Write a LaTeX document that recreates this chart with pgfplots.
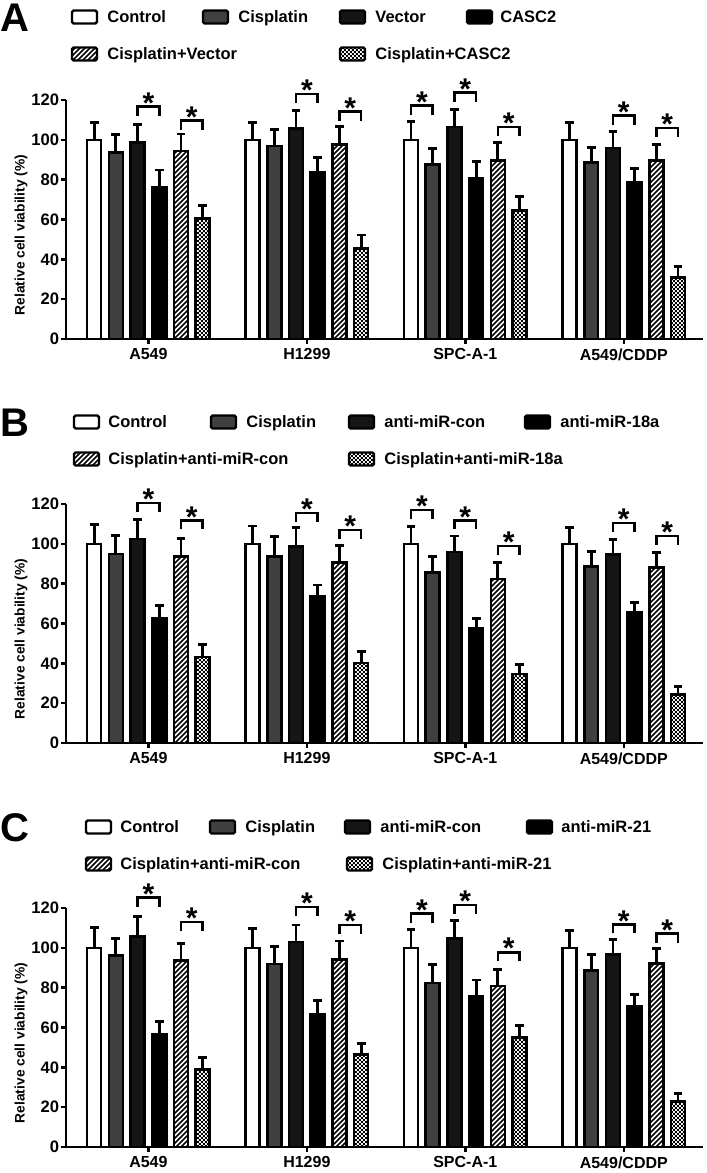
\documentclass[border=0pt]{standalone}
\usepackage{pgfplots}
\pgfplotsset{compat=1.18}
\usepackage{pgfplotstable}
\usepackage{fontspec}
\setmainfont{Liberation Sans}
\usetikzlibrary{patterns}

\definecolor{cisgray}{HTML}{404040}
\definecolor{vecgray}{HTML}{151515}

\pgfdeclarepatternformonly{densehatch}{\pgfqpoint{-1pt}{-1pt}}{\pgfqpoint{3.5pt}{3.5pt}}{\pgfqpoint{2.5pt}{2.5pt}}{%
  \pgfsetlinewidth{0.75pt}\pgfpathmoveto{\pgfqpoint{0pt}{0pt}}\pgfpathlineto{\pgfqpoint{2.6pt}{2.6pt}}\pgfusepath{stroke}}
\pgfdeclarepatternformonly{finecheck}{\pgfqpoint{0pt}{0pt}}{\pgfqpoint{2.2pt}{2.2pt}}{\pgfqpoint{2.2pt}{2.2pt}}{%
  \pgfpathrectangle{\pgfqpoint{0pt}{0pt}}{\pgfqpoint{1.1pt}{1.1pt}}%
  \pgfpathrectangle{\pgfqpoint{1.1pt}{1.1pt}}{\pgfqpoint{1.1pt}{1.1pt}}\pgfusepath{fill}}

\tikzset{
  sC/.style={fill=white},
  sS/.style={fill=cisgray},
  sV/.style={fill=vecgray},
  sK/.style={fill=black},
  sSV/.style={pattern=densehatch, pattern color=black},
  sSK/.style={pattern=finecheck, pattern color=black},
}

\pgfplotsset{
  panel/.style={
    scale only axis, width=318.5pt, height=119.5pt,
    xmin=-0.52, xmax=3.5, ymin=0, ymax=120,
    axis x line=bottom, axis y line=left,
    axis line style={-, line width=1.2pt, black},
    xtick={0,1,2,3}, xticklabels={A549,H1299,SPC-A-1,A549/CDDP},
    ytick={0,20,...,120},
    tick align=outside, major tick length=2.5pt,
    tick style={line width=1.2pt, black},
    /pgf/number format/assume math mode=true,
    xticklabel style={font=\bfseries\fontsize{8}{9}\selectfont, inner sep=2.2pt},
    yticklabel style={font=\bfseries\fontsize{8.3}{9}\selectfont, inner sep=0.8pt},
    ylabel={Relative cell viability (\%)},
    ylabel style={font=\bfseries\fontsize{6.9}{8}\selectfont, at={(axis description cs:-0.0706,0.435)}, anchor=center},
    clip=false,
    anchor=south west,
  },
  bars/.style={ybar, bar shift=0pt, bar width=0.088, draw=black, line width=1.3pt,
    error bars/y dir=plus, error bars/y explicit,
    error bars/draw error bar/.code 2 args={%
      \draw[line width=1.4pt, draw=black, solid, fill=none, pattern=none] ##1 -- ##2;
      \draw[line width=1.4pt, draw=black, solid, fill=none, pattern=none] ##2 ++(-2.2pt,0) -- ++(4.4pt,0);
    },
  },
}

% group, first bar index, bracket top
\newcommand{\sig}[3]{%
  \draw[line width=1.3pt, black] (axis cs:{#1+(#2-2.5)*0.137},{#3-4.6}) -- (axis cs:{#1+(#2-2.5)*0.137},#3)
     -- (axis cs:{#1+(#2-1.5)*0.137},#3) -- (axis cs:{#1+(#2-1.5)*0.137},{#3-4.6});
  \node[anchor=north, inner sep=0pt, font=\bfseries\fontsize{15}{15}\selectfont] at (axis cs:{#1+(#2-2)*0.137},{#3+7.2}) {*};
}

\newcommand{\legfont}{\bfseries\fontsize{8.25}{9}\selectfont}
% box left px, y px, text left px, style, text
\newcommand{\legent}[5]{%
  \draw[#4, draw=black, line width=1.2pt, rounded corners=0.8pt] ({#1*0.5pt},{(1173-#2)*0.5pt-3.25pt}) rectangle ++(12.5pt,6.5pt);
  \node[anchor=base west, inner sep=0pt, font=\legfont] at ({#3*0.5pt},{(1173-#2)*0.5pt-3pt}) {#5};
}
\newcommand{\plabel}[2]{%
  \node[font=\bfseries\fontsize{20}{20}\selectfont, inner sep=0pt] at ({15*0.5pt},{(1173-#1)*0.5pt}) {#2};
}

\pgfplotstableread{
x c ce s se v ve k ke sv sve sk ske
0 100 8.7 93.7 9.1 98.7 9.1 76.2 8.6 94.4 8.5 60.5 6.7
1 100 8.8 96.8 8.4 105.8 9.0 83.8 7.5 97.7 8.8 45.5 6.7
2 100 9.3 87.7 8.0 106.5 8.7 80.7 8.3 89.5 9.0 64.5 7.0
3 100 8.5 88.7 7.6 95.8 8.4 78.5 7.0 89.5 8.0 31.0 5.3
}\tabA
\pgfplotstableread{
x c ce s se v ve k ke sv sve sk ske
0 100 9.6 94.8 9.4 102.5 9.8 62.7 6.4 93.6 9.1 43.2 6.4
1 100 9.0 93.6 10.1 98.8 9.2 73.5 5.8 90.7 8.5 40.1 5.9
2 100 8.8 85.7 8.1 95.8 8.1 57.7 4.7 82.3 8.4 34.6 4.7
3 100 8.4 88.5 7.8 94.6 7.6 65.4 5.3 88.2 7.6 24.5 3.8
}\tabB
\pgfplotstableread{
x c ce s se v ve k ke sv sve sk ske
0 100 10.1 96.1 8.6 105.6 10.1 56.4 6.8 93.6 8.6 38.9 6.2
1 100 9.6 91.9 8.6 102.9 8.6 66.7 6.8 94.1 9.3 46.3 5.6
2 100 9.3 82.3 9.3 104.7 9.2 75.8 8.0 80.9 8.1 55.1 6.0
3 100 8.8 88.5 8.1 96.6 7.5 70.8 5.6 92.1 7.6 22.8 4.1
}\tabC

\newcommand{\allbars}[1]{%
  \addplot[bars, sC]  table[x expr=\thisrow{x}-0.3425, y=c,  y error=ce]  {#1};
  \addplot[bars, sS]  table[x expr=\thisrow{x}-0.2055, y=s,  y error=se]  {#1};
  \addplot[bars, sV]  table[x expr=\thisrow{x}-0.0685, y=v,  y error=ve]  {#1};
  \addplot[bars, sK]  table[x expr=\thisrow{x}+0.0685, y=k,  y error=ke]  {#1};
  \addplot[bars, sSV] table[x expr=\thisrow{x}+0.2055, y=sv, y error=sve] {#1};
  \addplot[bars, sSK] table[x expr=\thisrow{x}+0.3425, y=sk, y error=ske] {#1};
}

\begin{document}
\begin{tikzpicture}
\useasboundingbox (0,0) rectangle (353.5pt,586.5pt);

% ---------- Panel A ----------
\plabel{18}{A}
\legent{72}{17}{107}{sC}{Control}
\legent{203}{17}{238}{sS}{Cisplatin}
\legent{340}{17}{375}{sV}{Vector}
\legent{467}{17}{500}{sK}{CASC2}
\legent{72}{54}{107}{sSV}{Cisplatin+Vector}
\legent{340}{54}{375}{sSK}{Cisplatin+CASC2}
\begin{axis}[panel, at={(33pt,417pt)}]
\allbars{\tabA}
\sig{0}{2}{116.8}\sig{0}{4}{109.7}
\sig{1}{2}{123}\sig{1}{4}{114.3}
\sig{2}{0}{117.3}\sig{2}{2}{123.8}\sig{2}{4}{106.5}
\sig{3}{2}{112.2}\sig{3}{4}{106}
\end{axis}

% ---------- Panel B ----------
\plabel{423}{B}
\legent{74}{422}{108}{sC}{Control}
\legent{211}{422}{246}{sS}{Cisplatin}
\legent{349}{422}{384}{sV}{anti-miR-con}
\legent{525}{422}{560}{sK}{anti-miR-18a}
\legent{74}{459}{108}{sSV}{Cisplatin+anti-miR-con}
\legent{349}{459}{384}{sSK}{Cisplatin+anti-miR-18a}
\begin{axis}[panel, at={(33pt,215pt)}]
\allbars{\tabB}
\sig{0}{2}{120.6}\sig{0}{4}{111.8}
\sig{1}{2}{115.5}\sig{1}{4}{107}
\sig{2}{0}{116.9}\sig{2}{2}{111.8}\sig{2}{4}{99}
\sig{3}{2}{110.5}\sig{3}{4}{103.9}
\end{axis}

% ---------- Panel C ----------
\plabel{828}{C}
\legent{86}{827}{120}{sC}{Control}
\legent{210}{827}{245}{sS}{Cisplatin}
\legent{345}{827}{380}{sV}{anti-miR-con}
\legent{527}{827}{561}{sK}{anti-miR-21}
\legent{86}{864}{120}{sSV}{Cisplatin+anti-miR-con}
\legent{347}{864}{382}{sSK}{Cisplatin+anti-miR-21}
\begin{axis}[panel, at={(33pt,13pt)}]
\allbars{\tabC}
\sig{0}{2}{125.3}\sig{0}{4}{113}
\sig{1}{2}{120.6}\sig{1}{4}{111.5}
\sig{2}{0}{117.2}\sig{2}{2}{121.5}\sig{2}{4}{97.8}
\sig{3}{2}{111.8}\sig{3}{4}{107.1}
\end{axis}
\end{tikzpicture}
\end{document}
